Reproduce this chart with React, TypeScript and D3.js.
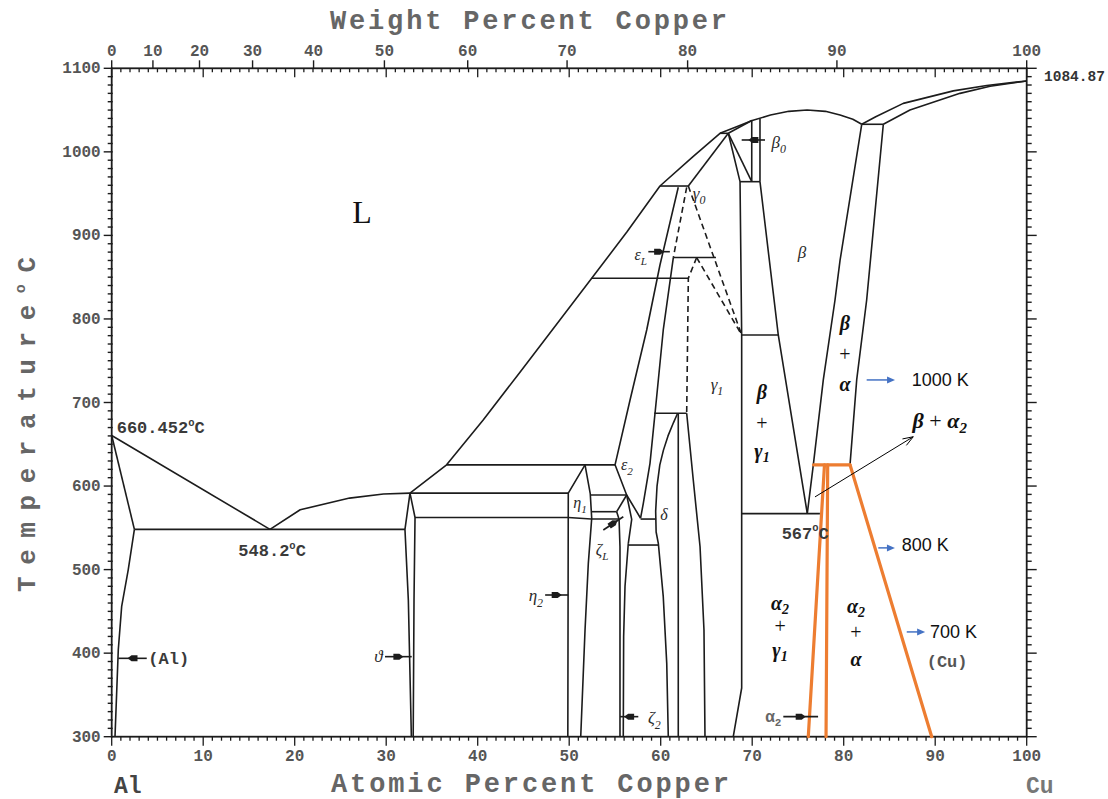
import React from 'react';
import * as d3 from 'd3';

type Pt = [number, number]; // [at.% Cu, temperature °C]

// ---------- tick values ----------
const tempMajor = [300, 400, 500, 600, 700, 800, 900, 1000, 1100];
const atomicMajor = [0, 10, 20, 30, 40, 50, 60, 70, 80, 90, 100];
const weightMajor = [0, 10, 20, 30, 40, 50, 60, 70, 80, 90, 100];

// ---------- Al side ----------
const liquidusAl: Pt[] = [[0, 660.452], [17.3, 548.2]];
const solidusAl: Pt[] = [[0, 660.452], [2.48, 548.2]];
const solvusAl: Pt[] = [[2.48, 548.2], [1.81, 500], [1.09, 456], [0.72, 404], [0.36, 300]];
const eutectic548: Pt[] = [[2.48, 548.2], [32.05, 548.2]];
const liquidusToTheta: Pt[] = [[17.3, 548.2], [20.6, 571.6], [26.0, 585.6], [29.7, 590.4], [32.6, 591.5]];

// ---------- theta ----------
const thetaLeft: Pt[] = [[32.6, 591.5], [32.05, 548.2], [32.42, 463.6], [32.75, 300]];
const thetaRight: Pt[] = [[32.6, 591.5], [33.15, 562.4], [33.04, 463.6], [32.95, 300]];

// ---------- main liquidus up to the beta maximum ----------
const liquidusMain: Pt[] = [
  [32.6, 591.5], [36.6, 625.4], [40.6, 679], [44.6, 736], [49.0, 799], [52.46, 848.7],
  [56.3, 904], [59.92, 959.1], [63.5, 994], [66.48, 1022.2], [68.5, 1031], [70.0, 1037.5],
  [72, 1044], [74, 1048.5], [76, 1050], [78, 1048.5], [79.6, 1044], [81, 1039], [81.97, 1033],
];

// ---------- Cu side ----------
const liquidusCu: Pt[] = [[81.97, 1033], [83.5, 1042], [86.51, 1058], [91.98, 1073], [95.63, 1079.5], [100, 1084.87]];
const solidusCu: Pt[] = [[84.33, 1033], [87.24, 1050], [92.71, 1070], [96, 1078.5], [100, 1084.87]];
const peritectic1033: Pt[] = [[81.97, 1033], [84.33, 1033]];
const betaAlphaLeft: Pt[] = [[81.97, 1033], [79.6, 870], [79.05, 822.7], [77.77, 727], [76.68, 625.4], [76.02, 567]];
const betaAlphaRight: Pt[] = [[84.33, 1033], [82.51, 822.7], [81.42, 727], [80.69, 625.4]];

// ---------- eta / zeta / epsilon ----------
const peritectic591: Pt[] = [[32.6, 591.5], [49.9, 591.5]];
const peritectic624: Pt[] = [[36.61, 625.4], [55.01, 625.4]];
const eta1Left: Pt[] = [[51.73, 625.4], [49.9, 591.5], [49.85, 300]];
const etaRight: Pt[] = [[51.73, 625.4], [52.3, 591], [52.46, 561.4], [52.09, 507.5], [51.73, 427.7], [51.26, 300]];
const line590: Pt[] = [[52.3, 589.3], [56.28, 589.3]];
const line570: Pt[] = [[52.46, 569.3], [55.19, 569.3]];
const line560: Pt[] = [[33.15, 562.4], [49.9, 562.4], [52.4, 560.5], [55.45, 560.5]];
const line560b: Pt[] = [[57.8, 560.5], [59.5, 560.5]];
const line530: Pt[] = [[56.46, 529.4], [59.74, 529.4]];
const eps2Left: Pt[] = [[55.01, 625.4], [56.28, 589.3], [57.8, 561.5]];
const epsLeft: Pt[] = [[61.92, 957.6], [59.92, 864.6], [58.47, 786.8], [56.65, 703], [55.01, 625.4]];
const epsRight: Pt[] = [[61.38, 873.5], [60.28, 786.8], [59.56, 706.9], [58.83, 627.2], [58.1, 579.3], [57.8, 561.5]];
const zeta1Left: Pt[] = [[56.28, 589.3], [55.19, 569.3]];
const zeta1Right: Pt[] = [[56.28, 589.3], [56.83, 560.2], [56.46, 531.5]];
const zeta2Left: Pt[] = [[55.19, 569.3], [55.45, 560.2], [55.55, 527.4], [55.55, 300]];
const zeta2Right: Pt[] = [[56.46, 531.5], [56.1, 480], [55.95, 420], [55.91, 300]];

// ---------- delta / gamma ----------
const line848: Pt[] = [[52.46, 848.7], [63.02, 848.7]];
const line958: Pt[] = [[59.92, 959.1], [63.02, 959.1]];
const line873: Pt[] = [[61.38, 873.5], [66.04, 873.5]];
const line686: Pt[] = [[59.3, 687.1], [62.84, 687.1]];
const deltaRight: Pt[] = [[61.92, 687.1], [61.92, 300]];
const deltaLeft: Pt[] = [
  [61.85, 687.1], [61.4, 676], [60.8, 660], [60.3, 643], [59.9, 625], [59.6, 600],
  [59.45, 570], [59.5, 545], [59.74, 531.5], [60.28, 467.6], [60.66, 387.8], [60.83, 300],
];
const gamma1Left: Pt[] = [[62.84, 687.1], [63.56, 607.2], [64.3, 527.4], [64.73, 427.7], [64.84, 300]];
const gamma0Solidus: Pt[] = [[63.02, 959.1], [67.39, 1022.2]];
const line1022: Pt[] = [[66.48, 1022.2], [67.39, 1022.2]];
const beta0Solidus: Pt[] = [[67.39, 1022.2], [69.95, 1037.5]];
const gamma0Beta0: Pt[] = [[67.39, 1022.2], [69.95, 964.3]];
const gammaRight: Pt[] = [[67.39, 1022.2], [68.67, 964.3], [68.85, 780.8], [68.85, 358.3], [67.93, 300]];
const line964: Pt[] = [[68.67, 964.3], [70.85, 964.3]];
const beta0Left: Pt[] = [[69.95, 1037.5], [69.95, 964.3]];
const beta0Right: Pt[] = [[70.85, 1040], [70.85, 964.3]];
const betaLeft: Pt[] = [[70.85, 964.3], [72.85, 780.8], [76.02, 567]];
const line780: Pt[] = [[68.85, 780.8], [72.85, 780.8]];
const eutectoid567: Pt[] = [[68.85, 567], [77.4, 567]];

// ---------- uncertain (dashed) boundaries ----------
const gamma0Dashed: Pt[] = [[63.02, 959.1], [68.85, 780.8]];
const gamma1TopRight: Pt[] = [[63.93, 873.5], [68.85, 780.8]];
const gamma1TopLeft: Pt[] = [[63.93, 873.5], [63.02, 848.7], [62.84, 687.1]];
const eps1Dashed: Pt[] = [[62.84, 957.6], [61.38, 873.5]];

// ---------- alpha2 boundaries (highlighted) ----------
const alpha2Tie: Pt[] = [[76.7, 625.4], [80.69, 625.4]];
const alpha2Left: Pt[] = [[77.9, 625.4], [76.13, 300]];
const alpha2Right: Pt[] = [[78.25, 625.4], [78.07, 300]];
const alphaSolvus: Pt[] = [[80.69, 625.4], [89.62, 300]];

const solidLines: Pt[][] = [
  liquidusAl, solidusAl, solvusAl, eutectic548, liquidusToTheta, thetaLeft, thetaRight,
  liquidusMain, liquidusCu, solidusCu, peritectic1033, betaAlphaLeft, betaAlphaRight,
  peritectic591, peritectic624, eta1Left, etaRight, line590, line570, line560, line560b, line530,
  eps2Left, epsLeft, epsRight, zeta1Left, zeta1Right, zeta2Left, zeta2Right,
  line848, line958, line873, line686, deltaRight, deltaLeft, gamma1Left, gamma0Solidus, line1022,
  beta0Solidus, gamma0Beta0, gammaRight, line964, beta0Left, beta0Right, betaLeft, line780, eutectoid567,
];
const dashedLines: Pt[][] = [gamma0Dashed, gamma1TopRight, gamma1TopLeft, eps1Dashed];
const orangeLines: Pt[][] = [alpha2Tie, alpha2Left, alpha2Right, alphaSolvus];

// ---------- geometry ----------
const W = 1108;
const H = 799;
const X0 = 111.7;
const X1 = 1026.7;
const YB = 736.7;
const YT = 68.3;

const x = d3.scaleLinear().domain([0, 100]).range([X0, X1]);
const y = d3.scaleLinear().domain([300, 1100]).range([YB, YT]);

// weight % Cu -> atomic % Cu
const M_AL = 26.9815;
const M_CU = 63.546;
const wtToAt = (w: number) =>
  w <= 0 ? 0 : w >= 100 ? 100 : ((w / M_CU) / (w / M_CU + (100 - w) / M_AL)) * 100;

const MONO = "'Liberation Mono', 'DejaVu Sans Mono', monospace";
const SERIF = "'Liberation Serif', 'DejaVu Serif', serif";
const SANS = "'Liberation Sans', Arial, sans-serif";
const INK = '#1c1c1c';
const GREY = '#555';

const line = d3.line<Pt>().x((d) => x(d[0])).y((d) => y(d[1]));

// small pointer arrow with a filled head, as used for the narrow phase fields
function Pointer({ from, to }: { from: Pt; to: Pt }) {
  const x1 = x(from[0]);
  const y1 = y(from[1]);
  const x2 = x(to[0]);
  const y2 = y(to[1]);
  const dx = x2 - x1;
  const dy = y2 - y1;
  const len = Math.hypot(dx, dy);
  const ux = dx / len;
  const uy = dy / len;
  const nx = -uy;
  const ny = ux;
  const cx = x1 + dx * 0.5;
  const cy = y1 + dy * 0.5;
  const p = (s: number, t: number) => `${cx + ux * s + nx * t},${cy + uy * s + ny * t}`;
  const head = [p(5, 0), p(1, 3), p(-5, 3), p(-5, -3), p(1, -3)].join(' ');
  return (
    <g>
      <line x1={x1} y1={y1} x2={x2} y2={y2} stroke={INK} strokeWidth={1.6} />
      <polygon points={head} fill={INK} />
    </g>
  );
}

function BlueArrow({ from, to }: { from: Pt; to: Pt }) {
  const x1 = x(from[0]);
  const x2 = x(to[0]);
  const yy = y(from[1]);
  return (
    <g>
      <line x1={x1} y1={yy} x2={x2 - 6} y2={yy} stroke="#4472C4" strokeWidth={1.5} />
      <polygon points={`${x2},${yy} ${x2 - 8},${yy - 3.5} ${x2 - 8},${yy + 3.5}`} fill="#4472C4" />
    </g>
  );
}

// italic phase label with optional subscript
function Phase({ t, sub, a, T, anchor = 'middle', size = 17 }: { t: string; sub?: string; a: number; T: number; anchor?: string; size?: number }) {
  return (
    <text x={x(a)} y={y(T) + size * 0.3} fontFamily={SERIF} fontStyle="italic" fontSize={size} fill="#2a2a2a" textAnchor={anchor}>
      {t}
      {sub ? (
        <tspan fontSize={size * 0.7} dy={size * 0.3}>
          {sub}
        </tspan>
      ) : null}
    </text>
  );
}

// bold italic math-style label
function MathLabel({ t, sub, a, T, plain = false }: { t: string; sub?: string; a: number; T: number; plain?: boolean }) {
  const size = plain ? 20 : 20;
  return (
    <text
      x={x(a)}
      y={y(T) + size * 0.33}
      fontFamily={SERIF}
      fontStyle={plain ? 'normal' : 'italic'}
      fontWeight={plain ? 'normal' : 'bold'}
      fontSize={size}
      fill="#111"
      textAnchor="middle"
    >
      {t}
      {sub ? (
        <tspan fontSize={size * 0.7} dy={size * 0.2}>
          {sub}
        </tspan>
      ) : null}
    </text>
  );
}

// typewriter temperature annotation with a raised "o" for degrees
function TempNote({ value, a, T, size = 17 }: { value: string; a: number; T: number; size?: number }) {
  return (
    <text x={x(a)} y={y(T)} fontFamily={MONO} fontWeight="bold" fontSize={size} fill="#3a3a3a">
      {value}
      <tspan fontSize={size * 0.62} dy={-size * 0.42}>
        o
      </tspan>
      <tspan dy={size * 0.42}>C</tspan>
    </text>
  );
}

export default function App() {
  const tempMinor = d3.range(300, 1101, 10);
  const atMinor = d3.range(0, 101, 1);

  return (
    <svg width={W} height={H} style={{ position: 'absolute', left: 0, top: 0, background: '#fff' }}>
      <rect width={W} height={H} fill="#fff" />

      {/* frame */}
      <rect x={X0} y={YT} width={X1 - X0} height={YB - YT} fill="none" stroke={INK} strokeWidth={1.8} />

      {/* left / right temperature ticks */}
      {tempMinor.map((T) => {
        const major = T % 100 === 0;
        return (
          <g key={`t${T}`}>
            <line x1={X0 - (major ? 8 : 4)} x2={X0 + 1} y1={y(T)} y2={y(T)} stroke={INK} strokeWidth={1.4} />
            <line x1={X1} x2={X1 + (major ? 10 : 5)} y1={y(T)} y2={y(T)} stroke={INK} strokeWidth={1.4} />
          </g>
        );
      })}
      {tempMajor.map((T) => (
        <text key={`tl${T}`} x={X0 - 11} y={y(T) + 5} textAnchor="end" fontFamily={MONO} fontWeight="bold" fontSize={16} fill={GREY}>
          {T}
        </text>
      ))}

      {/* bottom / top atomic-percent ticks */}
      {atMinor.map((a) => {
        const major = a % 10 === 0;
        return (
          <g key={`a${a}`}>
            <line x1={x(a)} x2={x(a)} y1={YB} y2={YB + (major ? 9 : 4)} stroke={INK} strokeWidth={1.3} />
            <line x1={x(a)} x2={x(a)} y1={YT} y2={YT + (major ? 9 : 4)} stroke={INK} strokeWidth={1.3} />
          </g>
        );
      })}
      {atomicMajor.map((a) => (
        <text key={`al${a}`} x={x(a)} y={YB + 24} textAnchor="middle" fontFamily={MONO} fontWeight="bold" fontSize={16} fill={GREY}>
          {a}
        </text>
      ))}

      {/* top weight-percent ticks */}
      {weightMajor.map((w) => (
        <g key={`w${w}`}>
          <line x1={x(wtToAt(w))} x2={x(wtToAt(w))} y1={YT - 8} y2={YT} stroke={INK} strokeWidth={1.4} />
          <text x={x(wtToAt(w))} y={YT - 12} textAnchor="middle" fontFamily={MONO} fontWeight="bold" fontSize={16} fill={GREY}>
            {w}
          </text>
        </g>
      ))}

      {/* axis titles */}
      <text x={330} y={29} textLength={397} lengthAdjust="spacing" fontFamily={MONO} fontWeight="bold" fontSize={27} fill="#666">
        Weight Percent Copper
      </text>
      <text x={331} y={792} textLength={398} lengthAdjust="spacing" fontFamily={MONO} fontWeight="bold" fontSize={27} fill="#666">
        Atomic Percent Copper
      </text>
      <text
        transform="translate(35,592) rotate(-90)"
        textLength={335}
        lengthAdjust="spacing"
        fontFamily={MONO}
        fontWeight="bold"
        fontSize={26}
        fill="#666"
      >
        Temperature
        <tspan fontSize={15} dy={-10}>o</tspan>
        <tspan dy={10}>C</tspan>
      </text>
      <text x={114} y={793} fontFamily={MONO} fontWeight="bold" fontSize={23} fill="#444">
        Al
      </text>
      <text x={1026} y={793} fontFamily={MONO} fontWeight="bold" fontSize={23} fill="#777">
        Cu
      </text>
      <text x={1044} y={81} fontFamily={MONO} fontWeight="bold" fontSize={14.5} fill="#333">
        1084.87
      </text>

      {/* phase boundaries */}
      {solidLines.map((pts, i) => (
        <path key={`s${i}`} d={line(pts) ?? ''} fill="none" stroke={INK} strokeWidth={1.6} strokeLinejoin="round" />
      ))}
      {dashedLines.map((pts, i) => (
        <path key={`d${i}`} d={line(pts) ?? ''} fill="none" stroke={INK} strokeWidth={1.6} strokeDasharray="6 4" />
      ))}
      {orangeLines.map((pts, i) => (
        <path key={`o${i}`} d={line(pts) ?? ''} fill="none" stroke="#ED7D31" strokeWidth={3.2} strokeLinecap="round" />
      ))}

      {/* pointer arrows for narrow fields */}
      <Pointer from={[3.83, 393.8]} to={[0.72, 393.8]} />
      <Pointer from={[29.87, 395.8]} to={[32.79, 395.8]} />
      <Pointer from={[47.37, 469.6]} to={[49.9, 469.6]} />
      <Pointer from={[57.55, 324]} to={[55.55, 324]} />
      <Pointer from={[73.4, 324]} to={[77.2, 324]} />
      <Pointer from={[71.4, 1014.2]} to={[68.85, 1014.2]} />
      <Pointer from={[58.65, 880.5]} to={[61.0, 880.5]} />
      <Pointer from={[53.73, 547.4]} to={[55.91, 563.3]} />

      {/* typewriter notes */}
      <TempNote value="660.452" a={0.55} T={663.5} />
      <TempNote value="548.2" a={13.84} T={516.3} />
      <TempNote value="567" a={73.22} T={537.2} />
      <text x={x(4.0)} y={y(393.8) + 6} fontFamily={MONO} fontWeight="bold" fontSize={17} fill="#3a3a3a">
        (Al)
      </text>
      <text x={x(89.07)} y={y(390.5) + 6} fontFamily={MONO} fontWeight="bold" fontSize={17} fill="#555">
        (Cu)
      </text>
      <text x={x(73.2)} y={y(324) + 5} textAnchor="end" fontFamily={MONO} fontWeight="bold" fontSize={16} fill="#666">
        α<tspan fontSize={11} dy={4}>2</tspan>
      </text>

      {/* phase labels */}
      <text x={x(27.36)} y={y(928) + 11} textAnchor="middle" fontFamily={SERIF} fontSize={32} fill="#111">
        L
      </text>
      <Phase t="ϑ" a={29.6} T={395.8} anchor="end" />
      <Phase t="β" sub="0" a={72.1} T={1010.6} anchor="start" />
      <Phase t="γ" sub="0" a={63.5} T={949.5} anchor="start" />
      <Phase t="ε" sub="L" a={58.5} T={876.6} anchor="end" size={16} />
      <Phase t="ε" sub="2" a={56.3} T={624.5} size={16} />
      <Phase t="η" sub="1" a={51.18} T={579.7} size={16} />
      <Phase t="ζ" sub="L" a={53.6} T={523.5} size={16} />
      <Phase t="δ" a={60.36} T={565.3} size={16} />
      <Phase t="γ" sub="1" a={66.15} T={721} />
      <Phase t="η" sub="2" a={47.14} T={468} anchor="end" />
      <Phase t="ζ" sub="2" a={58.6} T={322} anchor="start" />
      <Phase t="β" a={75.43} T={878.8} />

      {/* two-phase field annotations */}
      <MathLabel t="β" a={71.07} T={712.6} />
      <MathLabel t="+" a={71.07} T={675.5} plain />
      <MathLabel t="γ" sub="1" a={71.07} T={641.5} />

      <MathLabel t="β" a={80.14} T={795.2} />
      <MathLabel t="+" a={80.14} T={758.1} plain />
      <MathLabel t="α" a={80.14} T={722.2} />

      <MathLabel t="α" sub="2" a={73.04} T={459} />
      <MathLabel t="+" a={73.04} T={432} plain />
      <MathLabel t="γ" sub="1" a={73.04} T={403.5} />

      <MathLabel t="α" sub="2" a={81.34} T={456} />
      <MathLabel t="+" a={81.34} T={424.5} plain />
      <MathLabel t="α" a={81.34} T={392.5} />

      <text x={x(90.5)} y={y(677.9) + 7} textAnchor="middle" fontFamily={SERIF} fontSize={22} fill="#111">
        <tspan fontStyle="italic" fontWeight="bold">β</tspan>
        <tspan> + </tspan>
        <tspan fontStyle="italic" fontWeight="bold">α</tspan>
        <tspan fontStyle="italic" fontWeight="bold" fontSize={15} dy={5}>2</tspan>
      </text>

      {/* thin pointer to the beta + alpha2 field */}
      {(() => {
        const sx = x(76.86);
        const sy = y(587);
        const ex = x(87.6);
        const ey = y(659);
        const ang = Math.atan2(ey - sy, ex - sx);
        const h1 = [ex - 11 * Math.cos(ang - 0.35), ey - 11 * Math.sin(ang - 0.35)];
        const h2 = [ex - 11 * Math.cos(ang + 0.35), ey - 11 * Math.sin(ang + 0.35)];
        return (
          <g stroke="#000" strokeWidth={1} fill="none">
            <line x1={sx} y1={sy} x2={ex} y2={ey} />
            <polyline points={`${h1[0]},${h1[1]} ${ex},${ey} ${h2[0]},${h2[1]}`} />
          </g>
        );
      })()}

      {/* temperature markers in kelvin */}
      <BlueArrow from={[82.51, 727]} to={[85.61, 727]} />
      <text x={x(87.43)} y={y(727) + 6} fontFamily={SANS} fontSize={18} fill="#111">
        1000 K
      </text>
      <BlueArrow from={[83.78, 526]} to={[85.6, 526]} />
      <text x={x(86.34)} y={y(529.4) + 6} fontFamily={SANS} fontSize={18} fill="#111">
        800 K
      </text>
      <BlueArrow from={[86.89, 425.4]} to={[88.9, 425.4]} />
      <text x={x(89.43)} y={y(425.4) + 6} fontFamily={SANS} fontSize={18} fill="#111">
        700 K
      </text>
    </svg>
  );
}
